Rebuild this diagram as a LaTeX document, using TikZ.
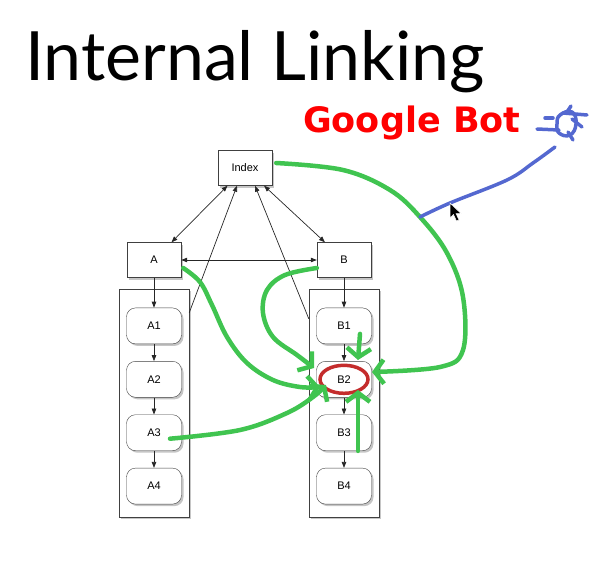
\documentclass[tikz,border=0pt]{standalone}
\usepackage{fontspec}
\setmainfont{Liberation Sans}
\newfontfamily\titlefont{Lato}
\newfontfamily\botfont{DejaVu Sans}
\usetikzlibrary{arrows.meta, positioning, shadows}
\definecolor{pen}{RGB}{64,196,80}
\definecolor{ring}{RGB}{196,44,44}
\definecolor{ink}{RGB}{84,104,208}

\begin{document}
\begin{tikzpicture}[
	x=1pt, y=-1pt,
	node distance=17pt,
	>={Triangle[length=6pt,width=4.5pt]},
	lift/.style = {drop shadow={shadow xshift=2pt, shadow yshift=-2pt, opacity=0.45}},
	box/.style = {draw=black!75, fill=white, lift, minimum width=54pt, minimum height=35pt, font=\fontsize{11}{13}\selectfont},
	page/.style = {box, rounded corners=9pt, minimum width=55pt, minimum height=36pt},
	column/.style = {draw=black!75, fill=white, lift, minimum width=70pt, minimum height=228pt},
	link/.style = {->, black!85, line width=0.7pt},
	hand/.style = {pen, line width=4.5pt, line cap=round, line join=round},
	handto/.style = {hand, -{Straight Barb[length=9pt,width=24pt]}},
	botpen/.style = {ink, line width=3.5pt, line cap=round, line join=round}
	]
	\useasboundingbox (0,0) rectangle (600,565);
	\node (title) [anchor=base west, inner sep=0, font=\titlefont\fontsize{68}{78}\selectfont] at (25,80) {Internal Linking};
	\node (bot) [anchor=base west, inner sep=0, text=red, font=\botfont\bfseries\fontsize{35}{40}\selectfont] at (303,132) {Google Bot};
%
	\node (colA) [column] at (154,403) {};
	\node (colB) [column] at (344,403) {};
	\node (index) [box] at (245,168) {Index};
	\node (a) [box] at (154,260) {A};
	\node (b) [box] at (344,260) {B};
	\node (a1) [page, below=30pt of a] {A1};
	\node (a2) [page, below=of a1] {A2};
	\node (a3) [page, below=of a2] {A3};
	\node (a4) [page, below=of a3] {A4};
	\node (b1) [page, below=30pt of b] {B1};
	\node (b2) [page, below=of b1] {B2};
	\node (b3) [page, below=of b2] {B3};
	\node (b4) [page, below=of b3] {B4};
%
	\foreach \s/\t in {a/a1, a1/a2, a2/a3, a3/a4, b/b1, b1/b2, b2/b3, b3/b4}
		\draw[link] (\s) -- (\t);
	\draw[link, <->] (index) -- (a);
	\draw[link, <->] (index) -- (b);
	\draw[link, <->] (a) -- (b);
	\draw[link] ([yshift=-24pt] colA.north east) -- ([xshift=-8pt] index.south);
	\draw[link] ([yshift=-30pt] colB.north west) -- ([xshift=10pt] index.south);
%
	% red ring round the target page
	\draw[ring, line width=3.5pt] (b2.center) ellipse [x radius=24pt, y radius=14pt];
%
	% green pen strokes
	\coordinate (tap) at (420,217);
	\draw[handto] plot[smooth, tension=0.6] coordinates {([xshift=4pt, yshift=5pt] index.east) (343,170) (390,190) (tap) (447,253) (463,297) (463,350) (440,367) (372,372)};
	\draw[handto] plot[smooth, tension=0.6] coordinates {([xshift=2pt, yshift=-8pt] a.east) (200,282) (212,305) (227,337) (247,363) (273,380) (300,387) (320,387)};
	\draw[handto] plot[smooth, tension=0.6] coordinates {([xshift=16pt, yshift=-6pt] a3.center) (240,430) (287,413) (313,397) (326,385)};
	\draw[handto] plot[smooth, tension=0.6] coordinates {([yshift=-8pt] b.west) (285,275) (267,290) (263,313) (273,337) (297,355) (314,368)};
	\draw[handto] ([xshift=16pt, yshift=-8pt] b1.center) -- (358,360);
	\draw[handto] ([xshift=14pt] b3.south) -- (358,390);
%
	% blue pen: the bot
	\draw[botpen] plot[smooth, tension=0.6] coordinates {(tap) (450,203) (507,180) (533,163) (555,147)};
	\draw[botpen] (537,129) -- (559,130);
	\draw[botpen] (545,118) -- (553,118);
	\draw[botpen] plot[smooth cycle, tension=0.8] coordinates {(560,115) (572,112) (576,124) (570,135) (559,133) (557,124)};
	\draw[botpen] (563,113) -- (587,115);
	\draw[botpen] (572,119) -- (582,127);
	\draw[botpen] (568,132) -- (573,140);
	\draw[botpen] (567,112) -- (571,106);
%
	% mouse pointer
	\filldraw[black, draw=white, line width=0.5pt] (450,203) -- (450,218) -- (453.5,214.5) -- (456.5,221) -- (459,220) -- (456,213.5) -- (461,213.5) -- cycle;
\end{tikzpicture}
\end{document}
